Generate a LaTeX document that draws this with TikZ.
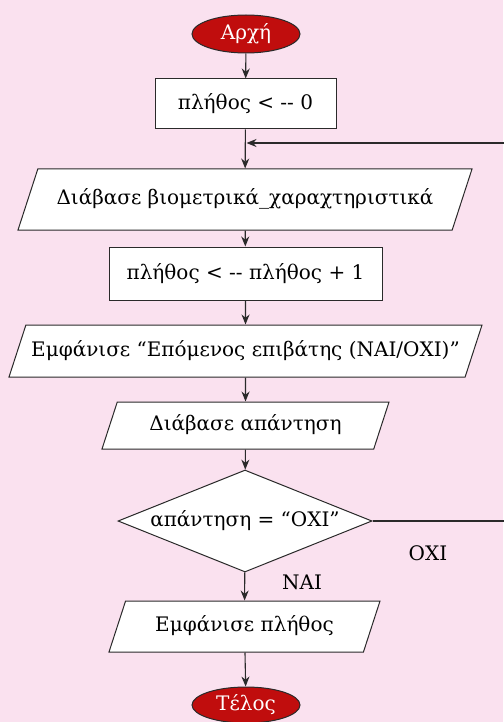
\documentclass[tikz,border=0pt]{standalone}
\usepackage{fontspec}
\setmainfont{DejaVu Serif}
\usetikzlibrary{shapes.geometric,arrows.meta}
\definecolor{bgpink}{HTML}{FAE1EF}
\definecolor{termred}{HTML}{C00D0D}
\definecolor{linegray}{HTML}{2A2A2A}

\begin{document}
\begin{tikzpicture}[x=1pt,y=-1pt,
        every node/.style={font=\fontsize{20}{24}\selectfont,text=black},
        term/.style={ellipse,draw=linegray,line width=1pt,fill=termred,text=white,minimum width=108pt,minimum height=38pt,inner sep=0pt},
        proc/.style={rectangle,draw=linegray,line width=1pt,fill=white,inner sep=0pt},
        io/.style={trapezium,trapezium left angle=72,trapezium right angle=108,trapezium stretches body,
            draw=linegray,line width=1pt,fill=white,inner xsep=0pt,text height=15pt,text depth=5pt},
        test/.style={diamond,aspect=2.5,draw=linegray,line width=1pt,fill=white,inner sep=0pt,minimum width=254pt,minimum height=102pt},
        flow/.style={draw=linegray,line width=1.1pt,-{Stealth[length=10pt,width=8pt]}}]
    \fill[bgpink] (0,0) rectangle (503,722);
    \useasboundingbox (0,0) rectangle (503,722);
    % boxes
    \node[term] (start) at (246,34) {Αρχή};
    \node[proc,minimum width=181pt,minimum height=50pt] (init) at (245.5,104) {πλήθος < -{}- 0};
    \node[io,minimum width=454pt,inner ysep=20.5pt] (read) at (245,199.5) {Διάβασε βιομετρικά\_χαραχτηριστικά};
    \node[proc,minimum width=273pt,minimum height=53pt] (incr) at (245.5,273.5) {πλήθος < -{}- πλήθος + 1};
    \node[io,minimum width=473pt,inner ysep=16pt] (prompt) at (245.5,351) {Εμφάνισε “Επόμενος επιβάτης (ΝΑΙ/ΟΧΙ)”};
    \node[io,minimum width=287pt,inner ysep=13.5pt] (answer) at (245.5,425.5) {Διάβασε απάντηση};
    \node[test] (check) at (245,521) {απάντηση = “ΟΧΙ”};
    \node[io,minimum width=271pt,inner ysep=15.5pt] (show) at (244.5,626.5) {Εμφάνισε πλήθος};
    \node[term,minimum height=36pt] (stop) at (246,705) {Τέλος};
    % labels
    \node[inner sep=0pt] (no) at (428,553) {ΟΧΙ};
    \node[inner sep=0pt] (yes) at (302,582) {ΝΑΙ};
    % loop corners
    \coordinate (loopR) at (506,521);
    \coordinate (loopT) at (506,143);
    \coordinate (join) at (246.5,143);
    % arrows
    \draw[flow] (start) -- (init);
    \draw[flow] (init) -- (read);
    \draw[flow] (read) -- (incr);
    \draw[flow] (incr) -- (prompt);
    \draw[flow] (prompt) -- (answer);
    \draw[flow] (answer) -- (check);
    \draw[flow] (check) -- (show);
    \draw[flow] (show) -- (stop);
    \draw[flow] (check.east) -- (loopR) -- (loopT) -- (join);
\end{tikzpicture}
\end{document}
